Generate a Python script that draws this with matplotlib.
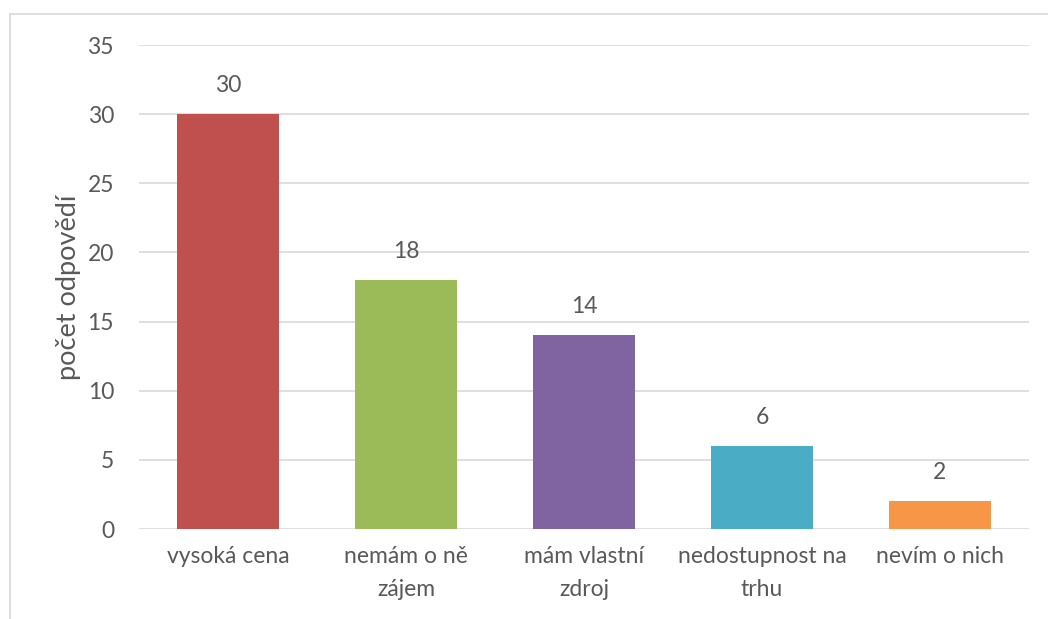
import matplotlib
matplotlib.use("Agg")
from matplotlib import pyplot as plt
from matplotlib.lines import Line2D

# Data
kategorie = ["vysoká cena", "nemám o ně\nzájem", "mám vlastní\nzdroj",
             "nedostupnost na\ntrhu", "nevím o nich"]
hodnoty = [30, 18, 14, 6, 2]
barvy = ["#C0504D", "#9BBB59", "#8064A2", "#4BACC6", "#F79646"]
yticks = [0, 5, 10, 15, 20, 25, 30, 35]

plt.rcParams['font.family'] = ['Lato', 'DejaVu Sans']
text_color = "#595959"
fs = 16.5

fig = plt.figure(figsize=(10.48, 6.19), dpi=100)
ax = fig.add_axes([139 / 1048, 1 - 529 / 619, 890 / 1048, 484 / 619])

x = range(len(kategorie))
bars = ax.bar(x, hodnoty, width=0.57, color=barvy, zorder=3)

# Popisky hodnot
for b, v in zip(bars, hodnoty):
    ax.text(b.get_x() + b.get_width() / 2, v + 1.3, str(v), ha='center',
            va='bottom', fontsize=fs, color=text_color)

ax.set_xlim(-0.5, len(kategorie) - 0.5)
ax.set_ylim(0, 35)
ax.set_yticks(yticks)
ax.set_xticks(list(x))
ax.set_xticklabels(kategorie, fontsize=fs, color=text_color, linespacing=1.7)
ax.tick_params(axis='y', labelsize=fs, labelcolor=text_color, length=0, pad=18)
ax.tick_params(axis='x', length=0, pad=12)
ax.grid(axis='y', color='#D9D9D9', linewidth=1.2, zorder=0)
for s in ax.spines.values():
    s.set_visible(False)

ax.set_ylabel("počet odpovědí", fontsize=19.5, color=text_color, labelpad=5)

# Rámeček grafu
fig.add_artist(Line2D([10 / 1048, 1], [1 - 14 / 619, 1 - 14 / 619],
                      color='#D9D9D9', linewidth=1.2, transform=fig.transFigure))
fig.add_artist(Line2D([10 / 1048, 10 / 1048], [0, 1 - 14 / 619],
                      color='#D9D9D9', linewidth=1.2, transform=fig.transFigure))

fig.savefig("out.png", dpi=100)
